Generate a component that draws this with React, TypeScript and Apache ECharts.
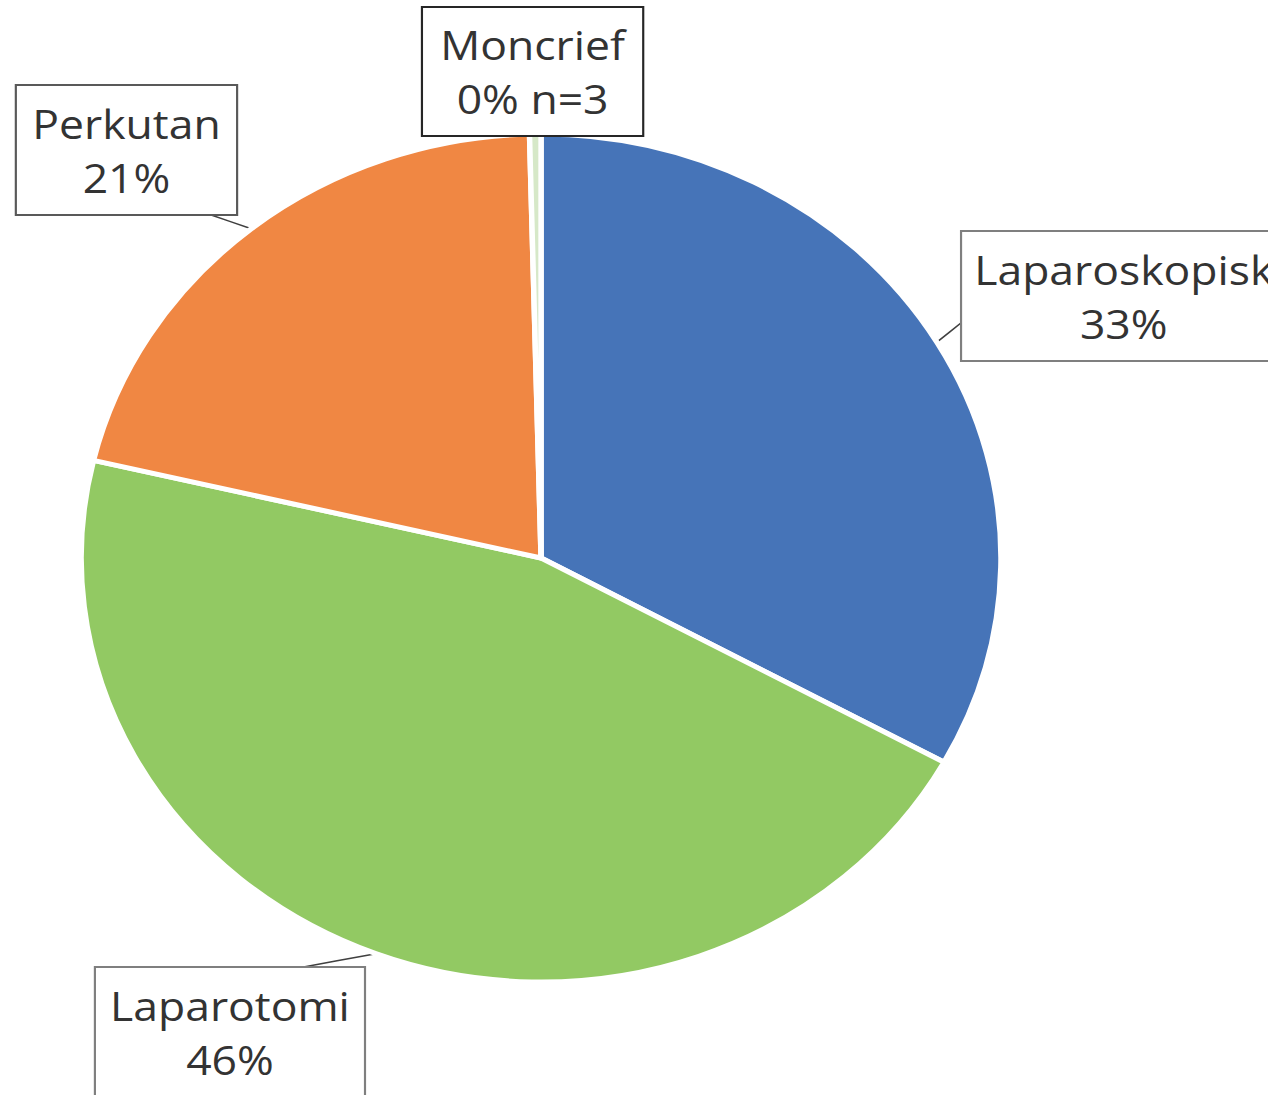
import React, { useEffect, useRef } from "react";
import * as echarts from "echarts";

// Data (clockwise from 12 o'clock)
const categories = ["Laparoskopisk", "Laparotomi", "Perkutan", "Moncrief"];
const shares = [33.0, 45.7, 20.9, 0.4];
const labelSuffix = ["", "", "", " n=3"];
const sliceColors = ["#4674B8", "#92C963", "#F08743", "#D6E8C8"];

// Label callout layout (unscaled chart coordinates)
const labelCenters = [
  [1036, 296],
  [212, 1032],
  [116.6, 150],
  [491, 71.5],
];
const boxSizes = [
  [298, 128],
  [247, 128],
  [202, 128],
  [202, 127],
];
const pointerAnchors: (number[] | null)[] = [[887, 322], [275, 968], [192, 214], null];
const boxBorders = ["#7F7F7F", "#7F7F7F", "#595959", "#262626"];

const SCALE_X = 1.0847;
const W = 1268 / SCALE_X;
const H = 1095;

export default function App() {
  const ref = useRef<HTMLDivElement>(null);
  useEffect(() => {
    if (!ref.current) return;
    const chart = echarts.init(ref.current, null, { renderer: "svg" });
    const data = categories.map((name, i) => ({
      name,
      value: shares[i],
      itemStyle: { color: sliceColors[i] },
      label: {
        formatter: "{b}\n{d}%" + labelSuffix[i],
        width: boxSizes[i][0],
        height: boxSizes[i][1],
        borderColor: boxBorders[i],
      },
      labelLine: { show: pointerAnchors[i] != null },
    }));
    chart.setOption({
      animation: false,
      backgroundColor: "#ffffff",
      series: [
        {
          type: "pie",
          center: [498.8, 558],
          radius: 424,
          startAngle: 90,
          clockwise: true,
          percentPrecision: 0,
          avoidLabelOverlap: false,
          itemStyle: { borderColor: "#ffffff", borderWidth: 5 },
          label: {
            show: true,
            position: "outside",
            fontFamily: "Open Sans",
            fontSize: 41,
            lineHeight: 54,
            color: "#333333",
            backgroundColor: "#ffffff",
            borderWidth: 2,
            padding: 0,
            align: "center",
            verticalAlign: "middle",
          },
          labelLine: {
            show: true,
            length: 5,
            length2: 5,
            lineStyle: { color: "#404040", width: 1.5 },
          },
          emphasis: { disabled: true },
          labelLayout: (params: any) => {
            const i = params.dataIndex;
            const res: any = {
              x: labelCenters[i][0],
              y: labelCenters[i][1],
              align: "center",
              verticalAlign: "middle",
            };
            const a = pointerAnchors[i];
            if (a && params.labelLinePoints) {
              const p0 = params.labelLinePoints[0];
              res.labelLinePoints = [
                [p0[0], p0[1]],
                [(p0[0] + a[0]) / 2, (p0[1] + a[1]) / 2],
                [a[0], a[1]],
              ];
            }
            return res;
          },
          data,
        },
      ],
    });
    return () => chart.dispose();
  }, []);
  return (
    <div
      style={{
        position: "absolute",
        left: 0,
        top: 0,
        width: 1268,
        height: 1095,
        overflow: "hidden",
        background: "#fff",
      }}
    >
      <div
        ref={ref}
        style={{
          width: W,
          height: H,
          transform: `scaleX(${SCALE_X})`,
          transformOrigin: "0 0",
        }}
      />
    </div>
  );
}
